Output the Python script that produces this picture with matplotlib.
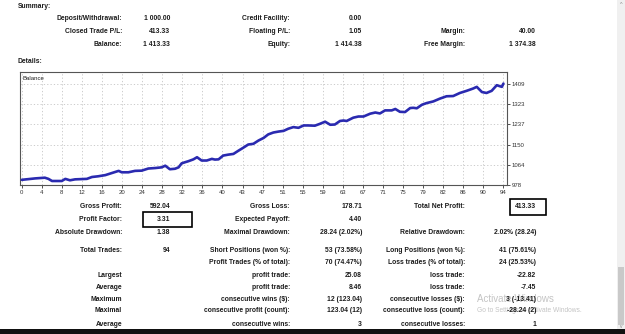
import matplotlib
matplotlib.use("Agg")
import matplotlib.pyplot as plt
from matplotlib.patches import Rectangle
import numpy as np

# ---------------- data ----------------
trade_x = [0, 2.6, 4.5, 5.2, 5.9, 7.8, 8.5, 9.4, 10.4, 12.7, 13.7, 14.9, 16.3, 17.6, 18.9, 19.5,
           20.8, 22.1, 23.4, 24.7, 26.0, 27.3, 28.0, 28.9, 29.9, 30.6, 31.2, 31.9, 32.5, 33.5,
           34.2, 35.1, 36.1, 37.1, 37.7, 38.4, 39.3, 40.3, 41.3, 42.3, 43.2, 44.2, 45.2, 46.2,
           47.2, 48.1, 49.1, 50.1, 51.1, 52.0, 53.0, 54.0, 55.0, 55.9, 57.2, 58.2, 59.2, 60.2,
           61.1, 62.1, 62.8, 63.4, 64.7, 65.7, 66.7, 68.0, 69.0, 69.9, 70.9, 72.2, 72.9, 73.8,
           74.8, 75.8, 76.4, 77.1, 78.1, 79.0, 80.3, 81.6, 82.9, 84.2, 85.5, 86.8, 88.1, 88.8,
           89.8, 90.7, 91.7, 92.7, 93.7, 94]
balance = [1000, 1006, 1009, 1004, 995, 995, 1004, 998, 1002, 1004, 1012, 1015, 1020, 1029, 1038, 1032,
           1032, 1038, 1039, 1048, 1050, 1053, 1060, 1045, 1047, 1053, 1070, 1075, 1079, 1087,
           1096, 1082, 1082, 1089, 1086, 1087, 1103, 1107, 1110, 1124, 1136, 1150, 1153, 1167,
           1178, 1193, 1201, 1205, 1208, 1217, 1224, 1221, 1231, 1231, 1230, 1238, 1247, 1234,
           1235, 1250, 1252, 1250, 1264, 1269, 1269, 1281, 1286, 1282, 1295, 1295, 1301, 1289,
           1288, 1305, 1306, 1304, 1319, 1326, 1333, 1345, 1355, 1356, 1369, 1378, 1388, 1395,
           1373, 1369, 1378, 1402, 1395, 1409]

x_tick_labels = ["0", "4", "8", "12", "16", "20", "24", "28", "32", "36", "40", "43", "47",
                 "51", "55", "59", "63", "67", "71", "75", "79", "82", "86", "90", "94"]
y_tick_labels = ["978", "1064", "1150", "1237", "1323", "1409"]

summary_rows = [
    ["Deposit/Withdrawal:", "1 000.00", "Credit Facility:", "0.00", "", ""],
    ["Closed Trade P/L:", "413.33", "Floating P/L:", "1.05", "Margin:", "40.00"],
    ["Balance:", "1 413.33", "Equity:", "1 414.38", "Free Margin:", "1 374.38"],
]
detail_rows = [
    ["Gross Profit:", "592.04", "Gross Loss:", "178.71", "Total Net Profit:", "413.33"],
    ["Profit Factor:", "3.31", "Expected Payoff:", "4.40", "", ""],
    ["Absolute Drawdown:", "1.38", "Maximal Drawdown:", "28.24 (2.02%)", "Relative Drawdown:", "2.02% (28.24)"],
    ["Total Trades:", "94", "Short Positions (won %):", "53 (73.58%)", "Long Positions (won %):", "41 (75.61%)"],
    ["", "", "Profit Trades (% of total):", "70 (74.47%)", "Loss trades (% of total):", "24 (25.53%)"],
    ["Largest", "", "profit trade:", "25.08", "loss trade:", "-22.82"],
    ["Average", "", "profit trade:", "8.46", "loss trade:", "-7.45"],
    ["Maximum", "", "consecutive wins ($):", "12 (123.04)", "consecutive losses ($):", "3 (-13.41)"],
    ["Maximal", "", "consecutive profit (count):", "123.04 (12)", "consecutive loss (count):", "-28.24 (2)"],
    ["Average", "", "consecutive wins:", "3", "consecutive losses:", "1"],
]

# ---------------- layout ----------------
W, H = 625, 334
fig = plt.figure(figsize=(W / 100, H / 100), dpi=100)
fig.patch.set_facecolor("white")
FAM = ["Liberation Sans", "DejaVu Sans"]
FS = 4.9
TXT = "#1c1c1c"


def T(x, y, s, ha="right", bold=True, size=FS, color=TXT, z=3, **kw):
    fig.text(x / W, 1 - y / H, s, ha=ha, va="center", fontsize=size,
             fontweight="bold" if bold else "normal", family=FAM, color=color,
             zorder=z, **kw)


def box(x0, y0, x1, y1, lw=1.2):
    fig.add_artist(Rectangle((x0 / W, 1 - y1 / H), (x1 - x0) / W, (y1 - y0) / H,
                             fill=False, ec="black", lw=lw, transform=fig.transFigure))


col_x = [122, 170, 290, 362, 465, 536]

T(18, 6, "Summary:", ha="left")
for r, yy in zip(summary_rows, [18, 31.5, 45]):
    for c, s in enumerate(r):
        if s:
            T(col_x[c], yy, s)
T(18, 61.5, "Details:", ha="left")

# ---------------- chart ----------------
ax_l, ax_r, ax_t, ax_b = 20, 507, 72.5, 185
ax = fig.add_axes([ax_l / W, 1 - ax_b / H, (ax_r - ax_l) / W, (ax_b - ax_t) / H])
ax.plot(trade_x, balance, color="#2a2ab0", lw=1.9, solid_joinstyle="round",
        solid_capstyle="round", zorder=3)
xt = np.linspace(0, 94, len(x_tick_labels))
ax.set_xticks(xt)
ax.set_xticklabels(x_tick_labels)
yt = [float(v) for v in y_tick_labels]
ax.set_yticks(yt)
ax.set_yticklabels(y_tick_labels)
ax.set_xlim(-0.35, 94.7)
ax.set_ylim(978, 1456)
ax.yaxis.tick_right()
ax.tick_params(axis="both", labelsize=4.3, length=2, width=0.6, colors="#333333", pad=1.5,
               direction="out")
for lab in ax.get_xticklabels() + ax.get_yticklabels():
    lab.set_family(FAM)
ax.grid(True, color="#c4c4c4", lw=0.6, linestyle=(0, (1.5, 2.5)))
for sp in ax.spines.values():
    sp.set_color("#555555")
    sp.set_linewidth(0.8)
ax.text(0.006, 0.965, "Balance", transform=ax.transAxes, ha="left", va="top",
        fontsize=4.3, family=FAM, color=TXT)

# ---------------- details ----------------
row_y = [206, 219.5, 233, 250, 263, 275.5, 287.5, 299.5, 311, 325]
for r, yy in zip(detail_rows, row_y):
    for c, s in enumerate(r):
        if s:
            T(col_x[c], yy, s)

box(142.5, 211.5, 192, 227)
box(510, 198.5, 546, 214.5)

# watermark (behind the values, as in the screenshot)
T(477, 298.5, "Activate Windows", ha="left", bold=False, size=7, color="#c4c4c4", z=1)
T(477, 311, "Go to Settings to activate Windows.", ha="left", bold=False, size=4.8,
  color="#c4c4c4", z=1)

# scrollbar
fig.add_artist(Rectangle((617 / W, 5 / H), 8 / W, 1 - 5 / H, fc="#f0f0f0", ec="none",
                         transform=fig.transFigure, zorder=0))
fig.add_artist(Rectangle((618 / W, 1 - 325 / H), 6 / W, 58 / H, fc="#c9c9c9", ec="none",
                         transform=fig.transFigure, zorder=1))
T(621, 4, "^", ha="center", bold=False, size=4, color="#888888")
T(621, 327, "v", ha="center", bold=False, size=3.5, color="#888888")

# bottom bar
fig.add_artist(Rectangle((0, 0), 1, 5 / H, fc="#111111", ec="none",
                         transform=fig.transFigure, zorder=5))

fig.savefig("out.png", dpi=100, facecolor="white")
